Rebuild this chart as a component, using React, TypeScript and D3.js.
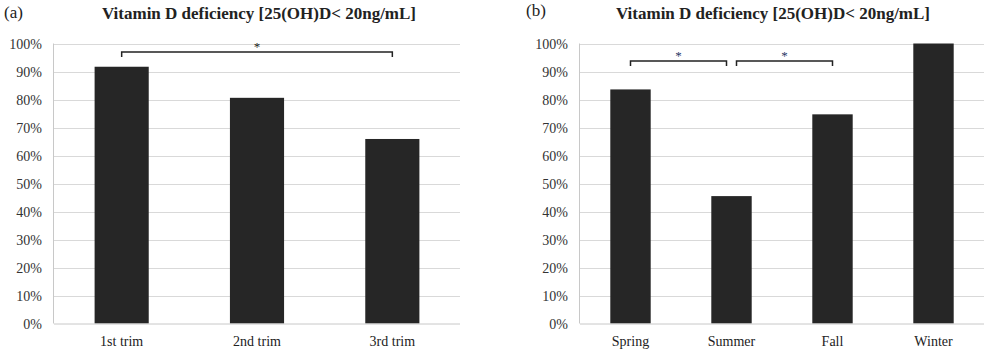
import React from "react";
import * as d3 from "d3";

const trimesters = ["1st trim", "2nd trim", "3rd trim"];
const trimesterValues = [0.917, 0.806, 0.659];

const seasons = ["Spring", "Summer", "Fall", "Winter"];
const seasonValues = [0.836, 0.455, 0.747, 1.0];

const yTicks = [0, 0.1, 0.2, 0.3, 0.4, 0.5, 0.6, 0.7, 0.8, 0.9, 1.0];

const titleText = "Vitamin D deficiency [25(OH)D< 20ng/mL]";

// significance brackets: [from category, to category]
const trimesterBrackets: [string, string][] = [["1st trim", "3rd trim"]];
const seasonBrackets: [string, string][] = [
  ["Spring", "Summer"],
  ["Summer", "Fall"],
];

const FONT = "'Liberation Serif', 'Times New Roman', serif";

type PanelProps = {
  tag: string;
  tagX: number;
  tagY: number;
  titleX: number;
  categories: string[];
  values: number[];
  x0: number;
  x1: number;
  brackets: [string, string][];
  bracketY: number;
  bracketGap: number;
  starColor: string;
};

function Panel(p: PanelProps) {
  const y = d3.scaleLinear().domain([0, 1]).range([323.5, 43.5]);
  const x = d3
    .scaleBand<string>()
    .domain(p.categories)
    .range([p.x0, p.x1])
    .paddingInner(0.6)
    .paddingOuter(0.3);
  const bw = x.bandwidth();
  const fmt = d3.format(".0%");
  return (
    <g>
      <text x={p.tagX} y={p.tagY} fontFamily={FONT} fontSize={17} fill="#222">
        {p.tag}
      </text>
      <text
        x={p.titleX}
        y={19}
        textAnchor="middle"
        fontFamily={FONT}
        fontSize={17}
        fontWeight="bold"
        fill="#222"
      >
        {titleText}
      </text>
      {yTicks.map((t) => (
        <g key={t}>
          {t > 0 && (
            <line
              x1={p.x0}
              x2={p.x1}
              y1={Math.round(y(t)) + 0.5}
              y2={Math.round(y(t)) + 0.5}
              stroke="#d9d9d9"
              strokeWidth={1}
            />
          )}
          <text
            x={p.x0 - 12}
            y={y(t) + 5}
            textAnchor="end"
            fontFamily={FONT}
            fontSize={14}
            fill="#333"
          >
            {fmt(t)}
          </text>
        </g>
      ))}
      {p.categories.map((c, i) => (
        <rect
          key={c}
          x={x(c)!}
          y={y(p.values[i])}
          width={bw}
          height={y(0) - y(p.values[i])}
          fill="#262626"
        />
      ))}
      <line x1={p.x0 - 0.5} x2={p.x0 - 0.5} y1={y(1)} y2={y(0)} stroke="#c8c8c8" strokeWidth={1} />
      <line x1={p.x0} x2={p.x1} y1={y(0) + 0.5} y2={y(0) + 0.5} stroke="#c8c8c8" strokeWidth={1} />
      {p.categories.map((c) => (
        <text
          key={c}
          x={x(c)! + bw / 2}
          y={346}
          textAnchor="middle"
          fontFamily={FONT}
          fontSize={14}
          fill="#222"
        >
          {c}
        </text>
      ))}
      {p.brackets.map(([a, b], i) => {
        const xa = x(a)! + bw / 2 + (i > 0 ? p.bracketGap : 0);
        const xb = x(b)! + bw / 2 - (i < p.brackets.length - 1 ? p.bracketGap : 0);
        const by = p.bracketY;
        return (
          <g key={i}>
            <path
              d={`M${xa},${by + 5}V${by}H${xb}V${by + 5}`}
              fill="none"
              stroke="#222"
              strokeWidth={1.5}
            />
            <text
              x={(xa + xb) / 2}
              y={by - 1}
              textAnchor="middle"
              fontFamily={FONT}
              fontSize={13}
              fill={p.starColor}
            >
              *
            </text>
          </g>
        );
      })}
    </g>
  );
}

export default function App() {
  return (
    <svg width={986} height={351} style={{ display: "block", position: "absolute", left: 0, top: 0, background: "#fff" }}>
      <rect width={986} height={351} fill="#fff" />
      <Panel
        tag="(a)"
        tagX={4}
        tagY={18}
        titleX={259}
        categories={trimesters}
        values={trimesterValues}
        x0={54}
        x1={460}
        brackets={trimesterBrackets}
        bracketY={52}
        bracketGap={0}
        starColor="#222"
      />
      <Panel
        tag="(b)"
        tagX={526}
        tagY={16}
        titleX={773}
        categories={seasons}
        values={seasonValues}
        x0={580}
        x1={984}
        brackets={seasonBrackets}
        bracketY={61}
        bracketGap={5}
        starColor="#1f3864"
      />
    </svg>
  );
}
